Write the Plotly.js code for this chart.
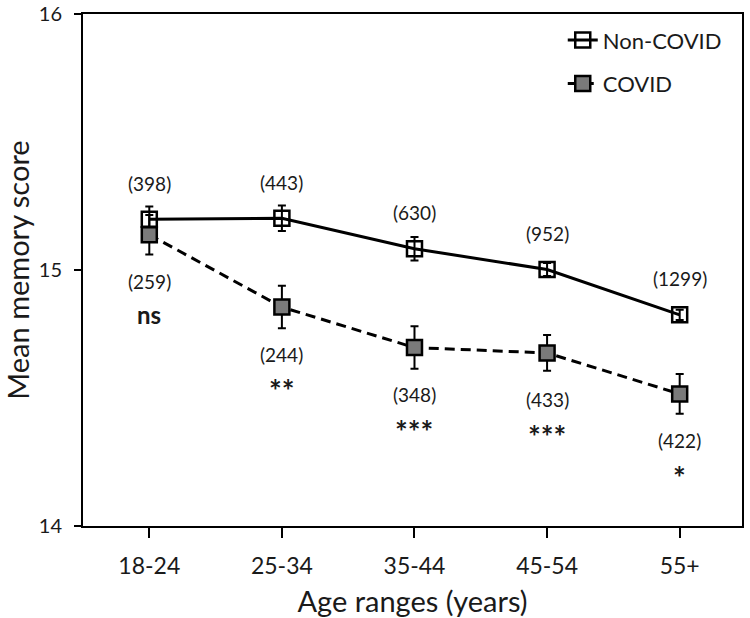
<!DOCTYPE html>
<html><head><meta charset="utf-8">
<script src="https://cdn.plot.ly/plotly-3.0.1.min.js"></script>
<style>html,body{margin:0;padding:0;background:#fff}#chart{width:750px;height:618px}</style>
</head><body><div id="chart"></div>
<script>
const ageRanges = ['18-24', '25-34', '35-44', '45-54', '55+'];
const nonCovidMean = [15.198, 15.202, 15.083, 15.002, 14.825];
const nonCovidErr = [0.05, 0.05, 0.046, 0.025, 0.02];
const covidMean = [15.138, 14.855, 14.697, 14.676, 14.516];
const covidErr = [0.077, 0.083, 0.083, 0.07, 0.078];
const nonCovidN = ['(398)', '(443)', '(630)', '(952)', '(1299)'];
const covidN = ['(259)', '(244)', '(348)', '(433)', '(422)'];
const significance = ['ns', '**', '***', '***', '*'];
const yTicks = [14, 15, 16];

const FONT = 'Lato, "Open Sans", sans-serif';
const TXT = '#1a1a1a';

const traces = [
  {
    x: ageRanges, y: nonCovidMean, name: 'Non-COVID', legendgroup: 'a',
    mode: 'lines+markers', type: 'scatter',
    line: {color: '#000', width: 3},
    marker: {symbol: 'square', size: 15, color: 'rgba(255,255,255,0)', line: {color: '#000', width: 2.5}},
    error_y: {type: 'data', array: nonCovidErr, visible: true, color: '#000', thickness: 2, width: 4}
  },
  {
    x: ageRanges, y: covidMean, name: 'COVID', legendgroup: 'b',
    mode: 'lines+markers', type: 'scatter',
    line: {color: '#000', width: 3, dash: '10px,6px'},
    marker: {symbol: 'square', size: 15, color: '#7a7a7a', line: {color: '#000', width: 2.5}},
    error_y: {type: 'data', array: covidErr, visible: true, color: '#000', thickness: 2, width: 4}
  }
];

const annotations = [];
ageRanges.forEach((c, i) => {
  annotations.push({x: c, y: nonCovidMean[i], text: nonCovidN[i], showarrow: false, yshift: 36,
    font: {family: FONT, size: 19, color: TXT}});
  annotations.push({x: c, y: covidMean[i], text: covidN[i], showarrow: false, yshift: -47,
    font: {family: FONT, size: 19, color: TXT}});
  const isNs = significance[i] === 'ns';
  annotations.push({x: c, y: covidMean[i], text: '<b>' + significance[i] + '</b>', showarrow: false,
    yshift: isNs ? -80 : -83,
    font: {family: FONT, size: isNs ? 24 : 30, color: TXT}});
});

const layout = {
  width: 750, height: 618,
  margin: {l: 83, r: 8, t: 14, b: 92},
  paper_bgcolor: '#fff', plot_bgcolor: '#fff',
  font: {family: FONT, color: TXT},
  showlegend: true,
  legend: {x: 0.728, y: 0.99, xanchor: 'left', yanchor: 'top', font: {family: FONT, size: 22, color: TXT},
    traceorder: 'grouped', tracegroupgap: 12, bgcolor: 'rgba(0,0,0,0)'},
  xaxis: {
    type: 'category', range: [-0.5, 4.47],
    showline: true, linecolor: '#000', linewidth: 2, mirror: true,
    ticks: 'outside', ticklen: 10, tickwidth: 2, tickcolor: '#000',
    ticklabelstandoff: 8,
    showgrid: false, zeroline: false,
    tickfont: {family: FONT, size: 23, color: TXT},
    title: {text: 'Age ranges (years)', font: {family: FONT, size: 29, color: TXT}, standoff: 14}
  },
  yaxis: {
    range: [14, 16], tickvals: yTicks, ticktext: yTicks.map(String),
    showline: true, linecolor: '#000', linewidth: 2, mirror: true,
    ticks: 'outside', ticklen: 7, tickwidth: 2, tickcolor: '#000',
    ticklabelstandoff: 8, ticklabeloverflow: 'allow',
    showgrid: false, zeroline: false,
    tickfont: {family: FONT, size: 20, color: TXT},
    title: {text: 'Mean memory score', font: {family: FONT, size: 29, color: TXT}, standoff: 20}
  },
  annotations: annotations
};

Plotly.newPlot('chart', traces, layout, {displayModeBar: false, staticPlot: true});
</script>
</body></html>
